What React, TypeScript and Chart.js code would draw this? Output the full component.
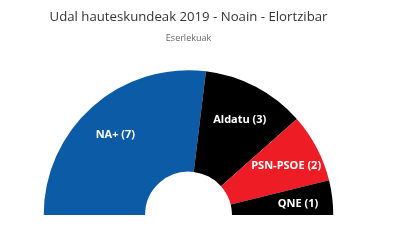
import React, { useEffect, useRef } from "react";
import { Chart, registerables } from "chart.js";

Chart.register(...registerables);

const parties = ["NA+", "Aldatu", "PSN-PSOE", "QNE"];
const seats = [7, 3, 2, 1];
const colors = ["#0b5ba6", "#000000", "#ee1c25", "#000000"];
const titleText = "Udal hauteskundeak 2019 - Noain - Elortzibar";
const subtitleText = "Eserlekuak";

const labelPlugin = {
  id: "sliceLabels",
  afterDatasetsDraw(chart: any) {
    const ctx = chart.ctx;
    const meta = chart.getDatasetMeta(0);
    ctx.save();
    ctx.fillStyle = "#ffffff";
    ctx.font = "bold 11px 'Open Sans'";
    ctx.textAlign = "center";
    ctx.textBaseline = "middle";
    meta.data.forEach((arc: any, i: number) => {
      const p = arc.getProps(["x", "y", "startAngle", "endAngle", "innerRadius", "outerRadius"], true);
      const mid = (p.startAngle + p.endAngle) / 2;
      const r = p.innerRadius + (p.outerRadius - p.innerRadius) * 0.66;
      const x = p.x + Math.cos(mid) * r;
      const y = p.y + Math.sin(mid) * r + 2.5;
      ctx.fillText(`${parties[i]} (${seats[i]})`, x, y);
    });
    ctx.restore();
  },
};

export default function App() {
  const ref = useRef<HTMLCanvasElement>(null);
  useEffect(() => {
    if (!ref.current) return;
    const chart = new Chart(ref.current, {
      type: "doughnut",
      data: {
        labels: parties,
        datasets: [
          {
            data: seats,
            backgroundColor: colors,
            borderWidth: 0,
          },
        ],
      },
      options: {
        animation: false,
        responsive: true,
        maintainAspectRatio: false,
        rotation: -90,
        circumference: 180,
        cutout: "30%",
        layout: { padding: { top: 0, left: 43, right: 66, bottom: 35 } },
        plugins: {
          legend: { display: false },
          tooltip: { enabled: false },
          title: {
            display: true,
            text: titleText,
            color: "#333333",
            font: { family: "'Open Sans'", size: 13.2, weight: "normal", lineHeight: 1.2 },
            padding: { top: 9.5, bottom: 4 },
          },
          subtitle: {
            display: true,
            text: subtitleText,
            color: "#666666",
            font: { family: "'Open Sans'", size: 9, weight: "normal", lineHeight: 1.2 },
            padding: { top: 3.2, bottom: 26.9 },
          },
        },
      },
      plugins: [labelPlugin],
    });
    return () => chart.destroy();
  }, []);
  return (
    <div style={{ position: "absolute", left: 0, top: 0, width: 400, height: 250 }}>
      <canvas ref={ref} />
    </div>
  );
}
